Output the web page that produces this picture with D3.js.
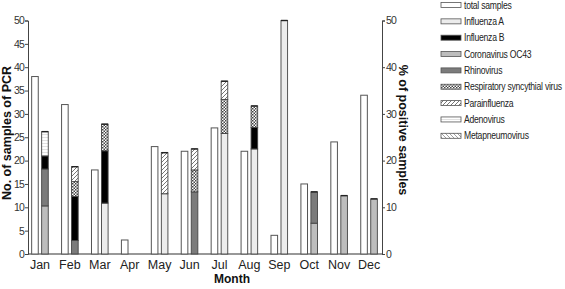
<!DOCTYPE html>
<html><head><meta charset="utf-8">
<script src="https://cdn.jsdelivr.net/npm/d3@7"></script>
<style>
body{margin:0;background:#fff;}
svg{display:block;font-family:"Liberation Sans",Arial,sans-serif;}
</style></head>
<body><svg id="c" width="565" height="289"></svg>
<script>
const months = ["Jan","Feb","Mar","Apr","May","Jun","Jul","Aug","Sep","Oct","Nov","Dec"];
const totalSamples = [38,32,18,3,23,22,27,22,4,15,24,34];
// % of positive samples, by virus
const influenzaA      = [0,0,10.9,0,12.9,0,25.8,22.5,50,0,0,0];
const coronavirusOC43 = [10.3,0,0,0,0,0,0,0,0,6.6,12.5,11.8];
const rhinovirus      = [7.9,2.9,0,0,0,13.3,0,0,0,6.7,0,0];
const influenzaB      = [2.8,9.4,11.2,0,0,0,0,4.6,0,0,0,0];
const rsv             = [0,3.2,5.7,0,0,4.7,7.3,4.6,0,0,0,0];
const parainfluenza   = [0,3.2,0,0,8.8,4.5,3.9,0,0,0,0,0];
const adenovirus      = [5.2,0,0,0,0,0,0,0,0,0,0,0];
const metapneumovirus = [0,0,0,0,0,0,0,0,0,0,0,0];
const leftTicks = [0,5,10,15,20,25,30,35,40,45,50];
const rightTicks = [0,10,20,30,40,50];

const series = [
  {key:"influenzaA", name:"Influenza A", values:influenzaA, fill:"#ececec"},
  {key:"coronavirus", name:"Coronavirus OC43", values:coronavirusOC43, fill:"#bdbdbd"},
  {key:"rhinovirus", name:"Rhinovirus", values:rhinovirus, fill:"#7b7b7b"},
  {key:"influenzaB", name:"Influenza B", values:influenzaB, fill:"#000"},
  {key:"rsv", name:"Respiratory syncythial virus", values:rsv, fill:"url(#pCheck)"},
  {key:"para", name:"Parainfluenza", values:parainfluenza, fill:"url(#pHatch)"},
  {key:"adeno", name:"Adenovirus", values:adenovirus, fill:"url(#pHoriz)"},
  {key:"meta", name:"Metapneumovirus", values:metapneumovirus, fill:"url(#pBack)"}
];
const legendOrder = [
  {name:"total samples", fill:"#fff"},
  {name:"Influenza A", fill:"#ececec"},
  {name:"Influenza B", fill:"#000"},
  {name:"Coronavirus OC43", fill:"#bdbdbd"},
  {name:"Rhinovirus", fill:"#7b7b7b"},
  {name:"Respiratory syncythial virus", fill:"url(#pCheck)"},
  {name:"Parainfluenza", fill:"url(#pHatch)"},
  {name:"Adenovirus", fill:"url(#pHoriz)"},
  {name:"Metapneumovirus", fill:"url(#pBack)"}
];

const svg = d3.select("#c");
const defs = svg.append("defs");
const pc = defs.append("pattern").attr("id","pCheck").attr("patternUnits","userSpaceOnUse").attr("width",3).attr("height",3);
pc.append("rect").attr("width",3).attr("height",3).attr("fill","#fff");
pc.append("rect").attr("width",1.5).attr("height",1.5).attr("fill","#444");
pc.append("rect").attr("x",1.5).attr("y",1.5).attr("width",1.5).attr("height",1.5).attr("fill","#444");
const ph = defs.append("pattern").attr("id","pHatch").attr("patternUnits","userSpaceOnUse").attr("width",4).attr("height",4);
ph.append("rect").attr("width",4).attr("height",4).attr("fill","#fff");
ph.append("path").attr("d","M-1,1 L1,-1 M0,4 L4,0 M3,5 L5,3").attr("stroke","#777").attr("stroke-width",1);
const pz = defs.append("pattern").attr("id","pHoriz").attr("patternUnits","userSpaceOnUse").attr("width",4).attr("height",3);
pz.append("rect").attr("width",4).attr("height",3).attr("fill","#fff");
pz.append("line").attr("x1",0).attr("x2",4).attr("y1",2.5).attr("y2",2.5).attr("stroke","#ccc").attr("stroke-width",0.6);
const pb = defs.append("pattern").attr("id","pBack").attr("patternUnits","userSpaceOnUse").attr("width",4).attr("height",4);
pb.append("rect").attr("width",4).attr("height",4).attr("fill","#fff");
pb.append("path").attr("d","M-1,3 L1,5 M0,0 L4,4 M3,-1 L5,1").attr("stroke","#888").attr("stroke-width",0.8);

const x0 = 25, x1 = 384, yTop = 20.5, yBot = 254;
const x = d3.scaleBand().domain(months).range([x0, x1]);
const sub = d3.scaleBand().domain(["total","pos"]).range([-8.3, 8.3]).paddingInner(0.34);
const yL = d3.scaleLinear().domain([0,50]).range([yBot, yTop]);
const yR = d3.scaleLinear().domain([0,50]).range([yBot, yTop]);

const axL = svg.append("g").attr("transform","translate(28,0)")
  .call(d3.axisLeft(yL).tickValues(leftTicks).tickSize(3).tickPadding(1));
const axR = svg.append("g").attr("transform","translate(382,0)")
  .call(d3.axisRight(yR).tickValues(rightTicks).tickSize(3).tickPadding(1));
[axL,axR].forEach(a=>{
  a.select(".domain").attr("stroke","#444");
  a.selectAll(".tick line").attr("stroke","#444");
  a.selectAll(".tick text").attr("font-size",10.5).attr("fill","#333")
   .attr("font-family","'Liberation Sans',Arial,sans-serif").attr("letter-spacing",-0.9);
});
svg.append("line").attr("x1",28).attr("x2",382).attr("y1",yBot).attr("y2",yBot).attr("stroke","#333").attr("stroke-width",1.2);
svg.append("g").selectAll("text").data(months).join("text")
  .attr("x",d=>x(d)+x.bandwidth()/2).attr("y",268.5)
  .attr("text-anchor","middle").attr("font-size",12.5).attr("fill","#222").text(d=>d);

svg.append("g").selectAll("rect").data(months).join("rect")
  .attr("x",(d)=>x(d)+x.bandwidth()/2+sub("total"))
  .attr("width",sub.bandwidth())
  .attr("y",(d,i)=>yL(totalSamples[i]))
  .attr("height",(d,i)=>yBot-yL(totalSamples[i]))
  .attr("fill","#fff").attr("stroke","#555").attr("stroke-width",1);

const table = months.map((m,i)=>{const o={month:m}; series.forEach(s=>o[s.key]=s.values[i]); return o;});
const stack = d3.stack().keys(series.map(s=>s.key))(table);
const gS = svg.append("g");
stack.forEach((layer,li)=>{
  gS.append("g").selectAll("rect").data(layer.filter(d=>d[1]-d[0]>0)).join("rect")
    .attr("x",d=>x(d.data.month)+x.bandwidth()/2+sub("pos"))
    .attr("width",sub.bandwidth())
    .attr("y",d=>yR(d[1]))
    .attr("height",d=>yR(d[0])-yR(d[1]))
    .attr("fill",series[li].fill)
    .attr("stroke","#444").attr("stroke-width",0.9);
});
const posTotals = months.map((m,i)=>d3.sum(series,s=>s.values[i]));
svg.append("g").selectAll("line").data(months.filter((m,i)=>posTotals[i]>0)).join("line")
  .attr("x1",d=>x(d)+x.bandwidth()/2+sub("pos"))
  .attr("x2",d=>x(d)+x.bandwidth()/2+sub("pos")+sub.bandwidth())
  .attr("y1",d=>yR(posTotals[months.indexOf(d)])).attr("y2",d=>yR(posTotals[months.indexOf(d)]))
  .attr("stroke","#222").attr("stroke-width",1.4);

svg.append("text").attr("transform","translate(11,133) rotate(-90)")
  .attr("text-anchor","middle").attr("font-weight","bold").attr("font-size",12.5).attr("fill","#111")
  .text("No. of samples of PCR");
svg.append("text").attr("transform","translate(398.5,130) rotate(90)")
  .attr("text-anchor","middle").attr("font-weight","bold").attr("font-size",12.5).attr("fill","#111")
  .text("% of positive samples");
svg.append("text").attr("x",232).attr("y",282.5).attr("text-anchor","middle")
  .attr("font-weight","bold").attr("font-size",12).attr("fill","#111").text("Month");

const lg = svg.append("g");
legendOrder.forEach((l,i)=>{
  const cy = 5 + i*16.35;
  lg.append("rect").attr("x",441).attr("y",cy-2.5).attr("width",20).attr("height",5)
    .attr("fill",l.fill).attr("stroke","#555").attr("stroke-width",0.8);
  lg.append("text").attr("transform",`translate(464,${cy+3.5}) scale(0.82,1)`)
    .attr("font-size",10.5).attr("fill","#222").attr("letter-spacing",-0.3).text(l.name);
});
</script></body></html>
